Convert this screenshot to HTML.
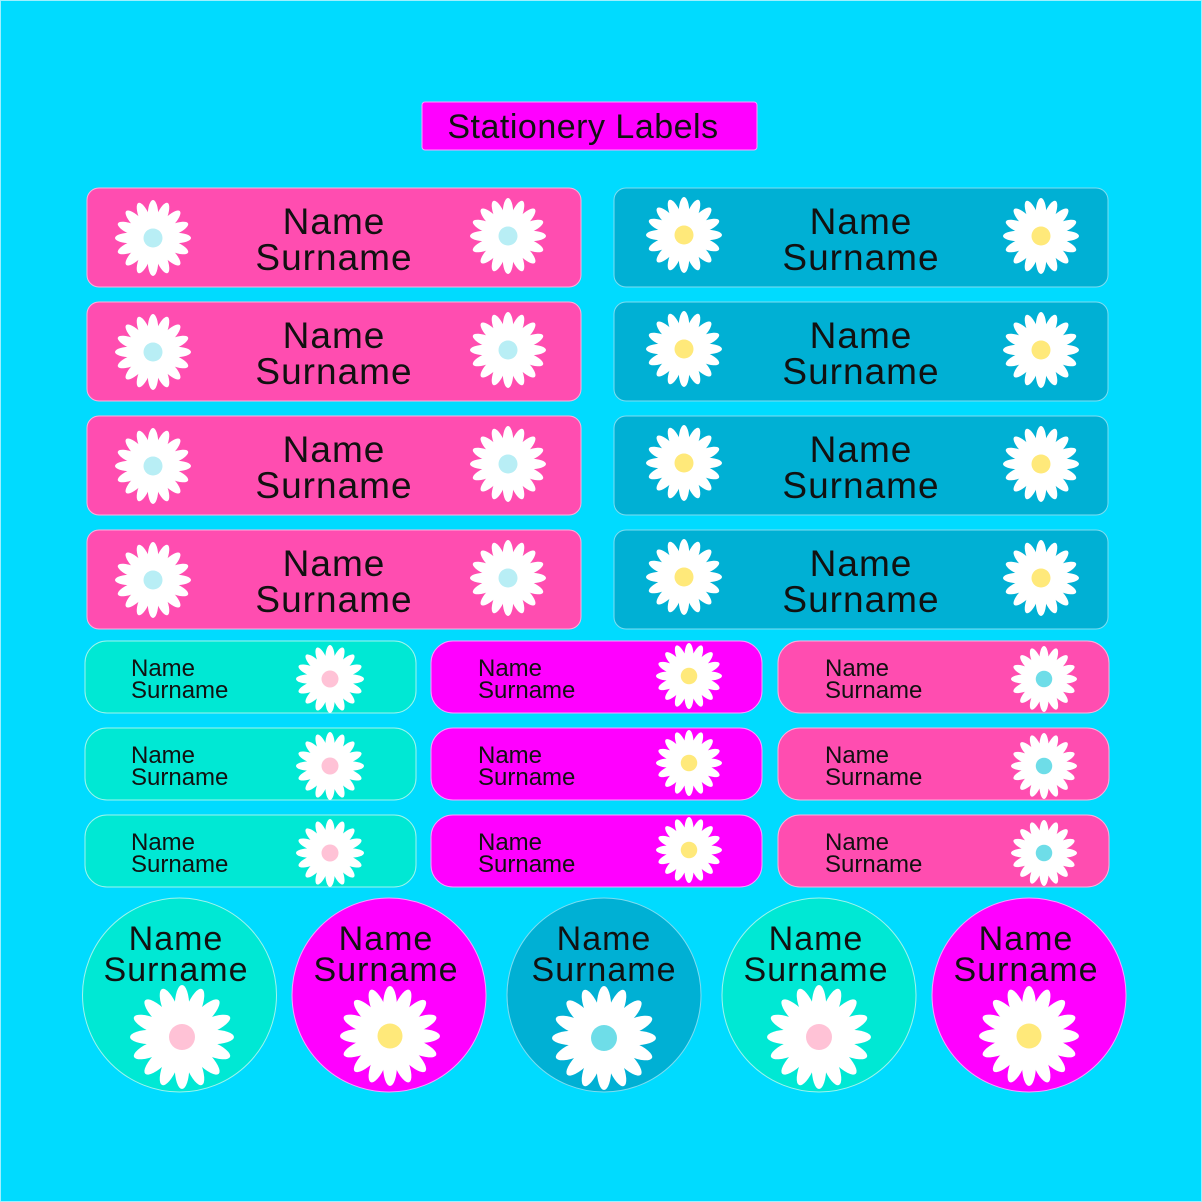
<!DOCTYPE html>
<html><head><meta charset="utf-8"><style>
html,body{margin:0;padding:0;background:#00DBFF}
svg{display:block}
text{font-family:"Liberation Sans","DejaVu Sans",sans-serif;fill:#111}
</style></head><body>
<svg width="1202" height="1202" viewBox="0 0 1202 1202" xmlns="http://www.w3.org/2000/svg">
<defs>
<g id="p">
<ellipse cx="0" cy="-0.58" rx="0.14" ry="0.42" fill="#fff"/>
</g>
<g id="d">
<use href="#p" transform="rotate(0)"/><use href="#p" transform="rotate(22.5)"/><use href="#p" transform="rotate(45)"/><use href="#p" transform="rotate(67.5)"/>
<use href="#p" transform="rotate(90)"/><use href="#p" transform="rotate(112.5)"/><use href="#p" transform="rotate(135)"/><use href="#p" transform="rotate(157.5)"/>
<use href="#p" transform="rotate(180)"/><use href="#p" transform="rotate(202.5)"/><use href="#p" transform="rotate(225)"/><use href="#p" transform="rotate(247.5)"/>
<use href="#p" transform="rotate(270)"/><use href="#p" transform="rotate(292.5)"/><use href="#p" transform="rotate(315)"/><use href="#p" transform="rotate(337.5)"/>
<circle r="0.45" fill="#fff"/>
</g>
</defs>
<rect x="0.5" y="0.5" width="1201" height="1201" fill="#00DBFF" stroke="#9ef0ff"/>
<rect x="422" y="102" width="335" height="48" rx="3" fill="#FF00FF" stroke="#ff9cff"/>
<text x="583" y="138" font-size="34" text-anchor="middle" fill="#4a004a" letter-spacing="0.5">Stationery Labels</text>

<g id="bigL">
<rect x="87" y="188" width="494" height="99" rx="12" fill="#FF4DB0" stroke="#ffb0dc"/>
<g transform="translate(153,238) scale(38)"><use href="#d"/><circle r="0.25" fill="#B8EEF5"/></g>
<g transform="translate(508,236) scale(38)"><use href="#d"/><circle r="0.25" fill="#B8EEF5"/></g>
<text x="334" y="234" font-size="37" text-anchor="middle" letter-spacing="1">Name</text>
<text x="334" y="270" font-size="37" text-anchor="middle" letter-spacing="1">Surname</text>
</g>
<use href="#bigL" y="114"/><use href="#bigL" y="228"/><use href="#bigL" y="342"/>
<g id="bigR">
<rect x="614" y="188" width="494" height="99" rx="12" fill="#00B0D4" stroke="#7fdcf0"/>
<g transform="translate(684,235) scale(38)"><use href="#d"/><circle r="0.25" fill="#FFE97A"/></g>
<g transform="translate(1041,236) scale(38)"><use href="#d"/><circle r="0.25" fill="#FFE97A"/></g>
<text x="861" y="234" font-size="37" text-anchor="middle" letter-spacing="1">Name</text>
<text x="861" y="270" font-size="37" text-anchor="middle" letter-spacing="1">Surname</text>
</g>
<use href="#bigR" y="114"/><use href="#bigR" y="228"/><use href="#bigR" y="342"/>

<g id="sm">
<rect x="85" y="641" width="331" height="72" rx="22" fill="#00E8D4" stroke="#9ff4ec"/>
<g transform="translate(330,679) scale(34)"><use href="#d"/><circle r="0.25" fill="#FFC2D6"/></g>
<text x="131" y="676" font-size="24">Name</text>
<text x="131" y="698" font-size="24">Surname</text>
<rect x="431" y="641" width="331" height="72" rx="22" fill="#FF00FF" stroke="#ff9cff"/>
<g transform="translate(689,676) scale(33)"><use href="#d"/><circle r="0.25" fill="#FFE97A"/></g>
<text x="478" y="676" font-size="24">Name</text>
<text x="478" y="698" font-size="24">Surname</text>
<rect x="778" y="641" width="331" height="72" rx="22" fill="#FF4DB0" stroke="#ffb0dc"/>
<g transform="translate(1044,679) scale(33)"><use href="#d"/><circle r="0.25" fill="#6EDDE8"/></g>
<text x="825" y="676" font-size="24">Name</text>
<text x="825" y="698" font-size="24">Surname</text>
</g>
<use href="#sm" y="87"/><use href="#sm" y="174"/>

<circle cx="179.5" cy="995" r="97" fill="#00E8D4" stroke="#9ff4ec"/>
<g transform="translate(182,1037) scale(52)"><use href="#d"/><circle r="0.25" fill="#FFC2D6"/></g>
<text x="176" y="950" font-size="34" text-anchor="middle" letter-spacing="1">Name</text>
<text x="176" y="981" font-size="34" text-anchor="middle" letter-spacing="1">Surname</text>

<circle cx="389" cy="995" r="97" fill="#FF00FF" stroke="#ff9cff"/>
<g transform="translate(390,1036) scale(50)"><use href="#d"/><circle r="0.25" fill="#FFE97A"/></g>
<text x="386" y="950" font-size="34" text-anchor="middle" letter-spacing="1">Name</text>
<text x="386" y="981" font-size="34" text-anchor="middle" letter-spacing="1">Surname</text>

<circle cx="604" cy="995" r="97" fill="#00B0D4" stroke="#7fdcf0"/>
<g transform="translate(604,1038) scale(52)"><use href="#d"/><circle r="0.25" fill="#6EDDE8"/></g>
<text x="604" y="950" font-size="34" text-anchor="middle" letter-spacing="1">Name</text>
<text x="604" y="981" font-size="34" text-anchor="middle" letter-spacing="1">Surname</text>

<circle cx="819" cy="995" r="97" fill="#00E8D4" stroke="#9ff4ec"/>
<g transform="translate(819,1037) scale(52)"><use href="#d"/><circle r="0.25" fill="#FFC2D6"/></g>
<text x="816" y="950" font-size="34" text-anchor="middle" letter-spacing="1">Name</text>
<text x="816" y="981" font-size="34" text-anchor="middle" letter-spacing="1">Surname</text>

<circle cx="1029" cy="995" r="97" fill="#FF00FF" stroke="#ff9cff"/>
<g transform="translate(1029,1036) scale(50)"><use href="#d"/><circle r="0.25" fill="#FFE97A"/></g>
<text x="1026" y="950" font-size="34" text-anchor="middle" letter-spacing="1">Name</text>
<text x="1026" y="981" font-size="34" text-anchor="middle" letter-spacing="1">Surname</text>
</svg>
</body></html>
